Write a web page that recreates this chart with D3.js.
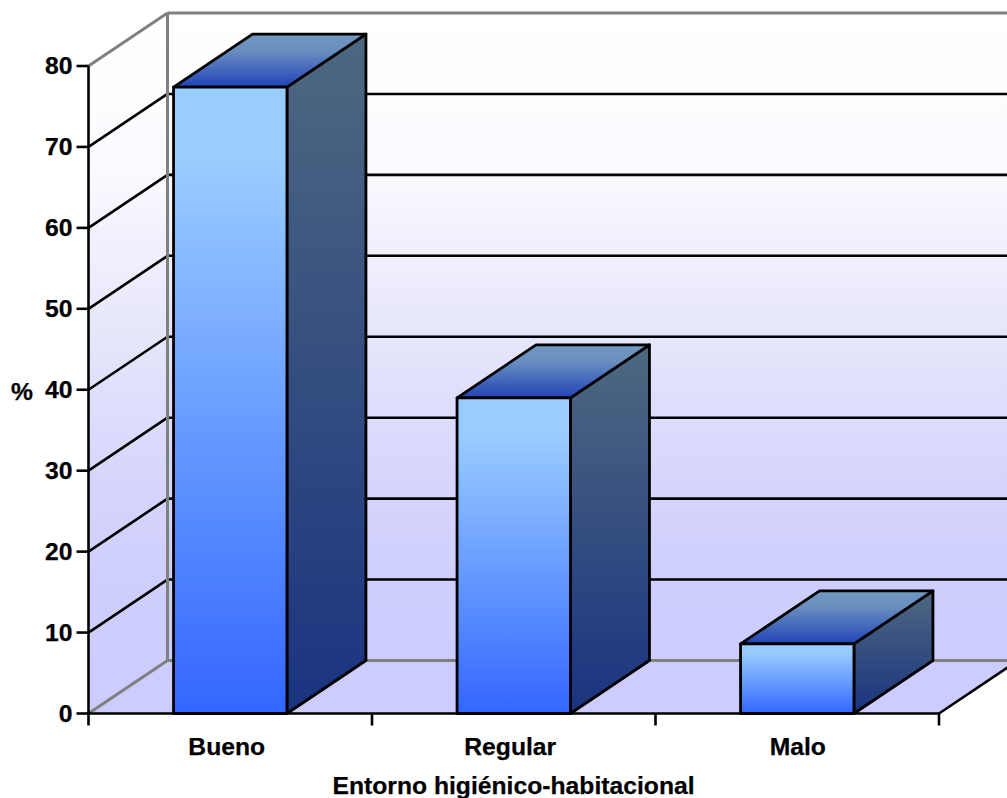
<!DOCTYPE html>
<html>
<head>
<meta charset="utf-8">
<script src="https://cdn.jsdelivr.net/npm/d3@7"></script>
<style>
html,body{margin:0;padding:0;background:#fff;overflow:hidden}
text{font-family:"Liberation Sans",Arial,sans-serif;font-weight:700;fill:#000;stroke:#000;stroke-width:0.25}
</style>
</head>
<body>
<svg id="chart" width="1007" height="798"></svg>
<script>
const categories = ["Bueno", "Regular", "Malo"];
const values = [77.4, 39.0, 8.6];
const yTicks = [0, 10, 20, 30, 40, 50, 60, 70, 80];
const yTitle = "%";
const xTitle = "Entorno higiénico-habitacional";

const svg = d3.select("#chart");
const x = d3.scaleBand().domain(categories).range([88.5, 939]).paddingInner(0.6).paddingOuter(0.3);
const y = d3.scaleLinear().domain([0, 80]).range([713.5, 66]);
const depth = {dx: 79, dy: -53};
const step = x.step();
const xEdges = d3.range(categories.length + 1).map(i => 88.5 + i * step);
const [x0, x1] = [xEdges[0], xEdges[xEdges.length - 1]];

// projected point: depth 0 is the front plane, depth 1 the back wall
const pt = (px, py, d) => [px + d * depth.dx, py + d * depth.dy];
const poly = pts => "M" + pts.map(p => p.join(",")).join("L") + "Z";
const seg = (a, b) => "M" + a.join(",") + "L" + b.join(",");

const defs = svg.append("defs");
function gradient(id, stops) {
  const g = defs.append("linearGradient").attr("id", id)
    .attr("x1", 0).attr("y1", 0).attr("x2", 0).attr("y2", 1);
  stops.forEach(([o, c]) => g.append("stop").attr("offset", o).attr("stop-color", c));
  return g;
}
// both walls share one gradient, measured along the height of the back wall
gradient("wall", [
  [0, "#ffffff"], [0.12, "#fdfdff"], [0.24, "#fafaff"], [0.365, "#f0f0fd"],
  [0.497, "#e6e6fb"], [0.63, "#dcdcfd"], [0.75, "#d4d4fd"], [0.875, "#cfcffd"], [1, "#ccccff"]
]).attr("gradientUnits", "userSpaceOnUse")
  .attr("y1", y(80) + depth.dy).attr("y2", y(0) + depth.dy);
gradient("front", [[0, "#99ccff"], [0.12, "#99ccff"], [1, "#3366ff"]]);
gradient("side", [[0, "#4f6880"], [1, "#1a3380"]]);
gradient("top", [[0, "#7099c2"], [0.3, "#6a8fbf"], [1, "#2244b8"]]);

const walls = svg.append("g");
// floor
walls.append("path")
  .attr("d", poly([pt(x0, y(0), 0), pt(x1, y(0), 0), pt(x1, y(0), 1), pt(x0, y(0), 1)]))
  .attr("fill", "#ccccff");
// left side wall
walls.append("path")
  .attr("d", poly([pt(x0, y(0), 0), pt(x0, y(80), 0), pt(x0, y(80), 1), pt(x0, y(0), 1)]))
  .attr("fill", "url(#wall)");
// back wall
walls.append("path")
  .attr("d", poly([pt(x0, y(0), 1), pt(x0, y(80), 1), pt(x1, y(80), 1), pt(x1, y(0), 1)]))
  .attr("fill", "url(#wall)");

// gridlines run along the side wall and across the back wall
const grid = walls.append("g").attr("fill", "none").attr("stroke", "#000").attr("stroke-width", 2.6);
grid.selectAll("path").data(yTicks.filter(t => t > 0 && t < 80)).join("path")
  .attr("d", t => seg(pt(x0, y(t), 0), pt(x0, y(t), 1)) + seg(pt(x0, y(t), 1), pt(x1, y(t), 1)));

// wall edges in grey
const edges = walls.append("g").attr("fill", "none").attr("stroke", "#808080").attr("stroke-width", 3);
edges.append("path").attr("d", seg(pt(x0, y(0), 0), pt(x0, y(0), 1)));
edges.append("path").attr("d", seg(pt(x0, y(0), 1), pt(x1, y(0), 1)));
edges.append("path").attr("d", seg(pt(x0, y(80), 0), pt(x0, y(80), 1)));
edges.append("path").attr("d", seg(pt(x0, y(80), 1), pt(x1, y(80), 1)));
edges.append("path").attr("d", seg(pt(x0, y(0), 1), pt(x0, y(80), 1)));

// floor edge on the right
walls.append("path").attr("d", seg(pt(x1, y(0), 0), pt(x1, y(0), 1)))
  .attr("fill", "none").attr("stroke", "#000").attr("stroke-width", 2.6);

// bars: side and top faces first, front face last
const barStyle = s => s.attr("stroke", "#000").attr("stroke-width", 2.8).attr("stroke-linejoin", "round");
const bars = svg.append("g").selectAll("g").data(categories.map((c, i) => ({c, v: values[i]}))).join("g");
bars.append("path").call(barStyle).attr("fill", "url(#side)").attr("d", d => {
  const r = x(d.c) + x.bandwidth();
  return poly([pt(r, y(d.v), 0), pt(r, y(d.v), 1), pt(r, y(0), 1), pt(r, y(0), 0)]);
});
bars.append("path").call(barStyle).attr("fill", "url(#top)").attr("d", d => {
  const l = x(d.c), r = l + x.bandwidth();
  return poly([pt(l, y(d.v), 0), pt(l, y(d.v), 1), pt(r, y(d.v), 1), pt(r, y(d.v), 0)]);
});
bars.append("path").call(barStyle).attr("fill", "url(#front)").attr("d", d => {
  const l = x(d.c), r = l + x.bandwidth();
  return poly([pt(l, y(d.v), 0), pt(r, y(d.v), 0), pt(r, y(0), 0), pt(l, y(0), 0)]);
});

// axes
const axes = svg.append("g").attr("fill", "none").attr("stroke", "#000").attr("stroke-width", 2.6);
axes.append("path").attr("d", seg([x0, y(0)], [x0, y(80)]));
axes.append("path").attr("d", seg([x0, y(0)], [x1, y(0)]));
axes.selectAll(".ytick").data(yTicks).join("path").attr("class", "ytick")
  .attr("d", t => seg([x0 - 12, y(t)], [x0, y(t)]));
axes.selectAll(".xtick").data(xEdges).join("path").attr("class", "xtick")
  .attr("d", e => seg([e, y(0)], [e, y(0) + 12]));

// labels
const fs = 24.7;
const labelShift = {Bueno: -3.5, Regular: -3.5, Malo: 0.5};
svg.append("g").selectAll("text").data(yTicks).join("text")
  .attr("x", 72.5).attr("y", t => y(t) + 8).attr("text-anchor", "end").attr("font-size", fs)
  .text(t => t);
svg.append("g").selectAll("text").data(categories).join("text")
  .attr("x", c => x(c) + x.bandwidth() / 2 + labelShift[c]).attr("y", 755).attr("text-anchor", "middle").attr("font-size", fs)
  .text(c => c);
svg.append("text").attr("x", 22).attr("y", 400).attr("text-anchor", "middle").attr("font-size", fs).text(yTitle);
svg.append("text").attr("x", 513.5).attr("y", 794).attr("text-anchor", "middle").attr("font-size", fs).text(xTitle);
</script>
</body>
</html>
